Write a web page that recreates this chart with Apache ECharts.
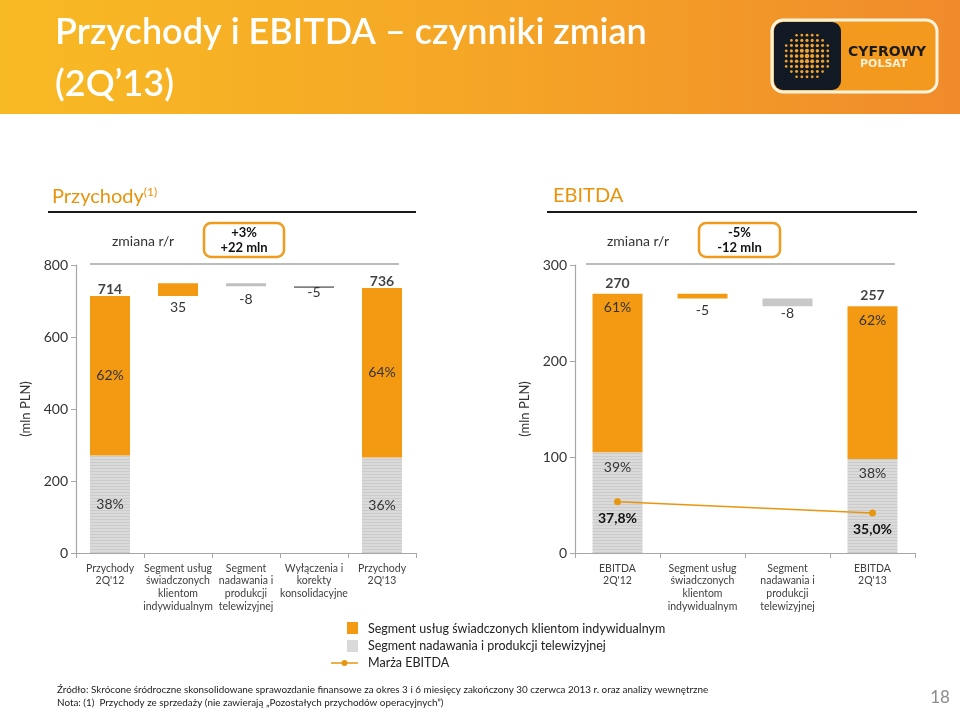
<!DOCTYPE html>
<html>
<head>
<meta charset="utf-8">
<script src="https://cdn.jsdelivr.net/npm/echarts@6/dist/echarts.min.js"></script>
<style>
html,body{margin:0;padding:0;background:#fff;}
#chart{width:960px;height:709px;}
</style>
</head>
<body>
<div id="chart"></div>
<script>
// ---------- DATA ----------
const revCategories = ["Przychody\n2Q'12", "Segment usług\nświadczonych\nklientom\nindywidualnym", "Segment\nnadawania i\nprodukcji\ntelewizyjnej", "Wyłączenia i\nkorekty\nkonsolidacyjne", "Przychody\n2Q'13"];
const revTotals = [714, 736];
const revDeltas = [35, -8, -5];
const revInd = [443, 471];
const revTV = [271, 265];
const revShareInd = ['62%', '64%'];
const revShareTV = ['38%', '36%'];
const revTicks = [0, 200, 400, 600, 800];

const ebitdaCategories = ["EBITDA\n2Q'12", "Segment usług\nświadczonych\nklientom\nindywidualnym", "Segment\nnadawania i\nprodukcji\ntelewizyjnej", "EBITDA\n2Q'13"];
const ebitdaTotals = [270, 257];
const ebitdaDeltas = [-5, -8];
const ebitdaInd = [165, 159];
const ebitdaTV = [105, 98];
const ebitdaShareInd = ['61%', '62%'];
const ebitdaShareTV = ['39%', '38%'];
const ebitdaMargin = [37.8, 35.0];
const ebitdaMarginLabels = ['37,8%', '35,0%'];
const ebitdaTicks = [0, 100, 200, 300];

// ---------- STYLE ----------
const FONT = 'Lato, "Open Sans", sans-serif';
const ORANGE = '#F39A12';
const GREY = '#D9D9D9';
const TXT = '#333333';

function stripes() {
  const c = document.createElement('canvas');
  c.width = 4; c.height = 3;
  const g = c.getContext('2d');
  g.fillStyle = '#DADADA'; g.fillRect(0, 0, 4, 3);
  g.fillStyle = '#CBCBCB'; g.fillRect(0, 0, 4, 1);
  return {image: c, repeat: 'repeat'};
}
const GREY_PAT = stripes();

// waterfall bases
function waterfall(start, deltas) {
  const base = [], mags = [];
  let run = start;
  deltas.forEach(d => {
    if (d >= 0) { base.push(run); run += d; }
    else { run += d; base.push(run); }
    mags.push(Math.abs(d));
  });
  return {base, mags};
}
const revW = waterfall(revTotals[0], revDeltas);
const ebW = waterfall(ebitdaTotals[0], ebitdaDeltas);

const lbl = {fontFamily: FONT, fontSize: 14, color: TXT};

// Revenue series
const revBase = [0, ...revW.base, 0];
const revGreyData = [
  {value: revTV[0], label: {show: true, position: 'inside', formatter: revShareTV[0]}},
  '-',
  {value: revW.mags[1], itemStyle: {color: '#BFBFBF'}, label: {show: true, position: 'bottom', distance: 6, formatter: String(revDeltas[1])}},
  '-',
  {value: revTV[1], label: {show: true, position: 'inside', formatter: revShareTV[1]}}
];
const revOrangeData = [
  {value: revInd[0], label: {show: true, position: 'inside', formatter: revShareInd[0]}},
  {value: revW.mags[0], label: {show: true, position: 'bottom', distance: 5, formatter: String(revDeltas[0])}},
  '-', '-',
  {value: revInd[1], label: {show: true, position: 'inside', formatter: revShareInd[1]}}
];
const revDarkData = ['-', '-', '-',
  {value: revW.mags[2], label: {show: true, position: 'bottom', distance: -3, formatter: String(revDeltas[2])}},
  '-'];

// EBITDA series
const ebBase = [0, ...ebW.base, 0];
const ebGreyData = [
  {value: ebitdaTV[0], label: {show: true, position: 'insideTop', distance: 8, formatter: ebitdaShareTV[0]}},
  '-',
  {value: ebW.mags[1], itemStyle: {color: '#C8C8C8'}, label: {show: true, position: 'bottom', distance: 0, formatter: String(ebitdaDeltas[1])}},
  {value: ebitdaTV[1], label: {show: true, position: 'insideTop', distance: 8, formatter: ebitdaShareTV[1]}}
];
const ebOrangeData = [
  {value: ebitdaInd[0], label: {show: true, position: 'insideTop', distance: 7, formatter: ebitdaShareInd[0]}},
  {value: ebW.mags[0], label: {show: true, position: 'bottom', distance: 5, formatter: String(ebitdaDeltas[0])}},
  '-',
  {value: ebitdaInd[1], label: {show: true, position: 'insideTop', distance: 7, formatter: ebitdaShareInd[1]}}
];
const ebMarginData = [ebitdaMargin[0], '-', '-', ebitdaMargin[1]];

function catAxis(gridIndex, data) {
  return {
    type: 'category', gridIndex, data,
    axisLine: {lineStyle: {color: '#A6A6A6', width: 1.2}},
    axisTick: {show: true, length: 5, lineStyle: {color: '#A6A6A6'}},
    axisLabel: {fontFamily: FONT, fontSize: 10.5, color: '#404040', lineHeight: 12.7, margin: 9, interval: 0}
  };
}
function valAxis(gridIndex, max, interval) {
  return {
    type: 'value', gridIndex, min: 0, max, interval,
    name: '(mln PLN)', nameLocation: 'middle', nameGap: 44, nameRotate: 90,
    nameTextStyle: {fontFamily: FONT, fontSize: 13, color: TXT},
    axisLine: {show: true, lineStyle: {color: '#A6A6A6', width: 1.2}},
    axisTick: {show: true, length: 5, lineStyle: {color: '#A6A6A6'}},
    axisLabel: {fontFamily: FONT, fontSize: 14, color: TXT, margin: 8},
    splitLine: {show: false}
  };
}

// ---------- GRAPHICS (decor) ----------
const graphic = [];
graphic.push({type: 'rect', shape: {x: 0, y: 0, width: 960, height: 114}, silent: true, z: -1,
  style: {fill: new echarts.graphic.LinearGradient(0, 0, 1, 0, [
    {offset: 0, color: '#F8BA24'}, {offset: 0.5, color: '#F5A626'}, {offset: 1, color: '#F08B2B'}])}});
graphic.push({type: 'text', left: 55, top: 14, style: {text: 'Przychody i EBITDA – czynniki zmian', font: '600 36px ' + FONT, fill: '#fff'}});
graphic.push({type: 'text', left: 55, top: 66, style: {text: '(2Q’13)', font: '600 36px ' + FONT, fill: '#fff'}});
// logo
graphic.push({type: 'rect', shape: {x: 772, y: 20, width: 165, height: 72, r: 11}, style: {fill: '#F39A1E', stroke: '#FFF3DC', lineWidth: 3}});
graphic.push({type: 'rect', shape: {x: 774, y: 22, width: 67, height: 68, r: 9}, style: {fill: '#111A24'}});
(function () {
  const cx = 807, cy = 56, R = 24;
  for (let i = -4; i <= 4; i++) {
    for (let j = -4; j <= 4; j++) {
      const x = cx + j * 5.2, y = cy + i * 5.2;
      const d = Math.hypot(x - cx, y - cy);
      if (d < R) graphic.push({type: 'circle', shape: {cx: x, cy: y, r: 2.3 * (1 - 0.45 * d / R)}, style: {fill: '#F5A22A'}});
    }
  }
})();
graphic.push({type: 'text', left: 848, top: 45, style: {text: 'CYFROWY', font: '900 14px "DejaVu Sans", sans-serif', fill: '#1A1A1A'}});
graphic.push({type: 'text', left: 860, top: 59, style: {text: 'POLSAT', font: '700 11px "DejaVu Sans", sans-serif', fill: '#FFF1D8'}});

// section headers
graphic.push({type: 'text', left: 52, top: 186, style: {
  text: '{a|Przychody}{s|(1)}', rich: {a: {font: '20px ' + FONT, fill: '#E8930C'}, s: {font: '12px ' + FONT, fill: '#E8930C', verticalAlign: 'top', padding: [0, 0, 10, 0]}}}});
graphic.push({type: 'line', shape: {x1: 48, y1: 212, x2: 416, y2: 212}, style: {stroke: '#1A1A1A', lineWidth: 2}});
graphic.push({type: 'text', left: 553, top: 186, style: {text: 'EBITDA', font: '20px ' + FONT, fill: '#E8930C'}});
graphic.push({type: 'line', shape: {x1: 547, y1: 212, x2: 917, y2: 212}, style: {stroke: '#1A1A1A', lineWidth: 2}});

// change boxes
function changeBox(cxLabel, bx, bw, l1, l2, lx1, lx2) {
  graphic.push({type: 'text', x: cxLabel, y: 241, style: {text: 'zmiana r/r', font: '14px ' + FONT, fill: TXT, align: 'center', verticalAlign: 'middle'}});
  graphic.push({type: 'rect', shape: {x: bx, y: 223, width: bw, height: 34, r: 7}, style: {fill: '#fff', stroke: '#F09A1E', lineWidth: 2.5}});
  graphic.push({type: 'text', x: bx + bw / 2, y: 233, style: {text: l1, font: 'bold 13px ' + FONT, fill: '#111', align: 'center', verticalAlign: 'middle'}});
  graphic.push({type: 'text', x: bx + bw / 2, y: 248, style: {text: l2, font: 'bold 13px ' + FONT, fill: '#111', align: 'center', verticalAlign: 'middle'}});
  graphic.push({type: 'line', shape: {x1: lx1, y1: 264, x2: lx2, y2: 264}, style: {stroke: '#A6A6A6', lineWidth: 1.5}});
}
changeBox(143, 204, 80, '+3%', '+22 mln', 90, 399);
changeBox(638, 699, 81, '-5%', '-12 mln', 586, 895);

// legend
graphic.push({type: 'rect', shape: {x: 347, y: 622, width: 11, height: 12}, style: {fill: ORANGE}});
graphic.push({type: 'text', x: 368, y: 629, style: {text: 'Segment usług świadczonych klientom indywidualnym', font: '12.5px ' + FONT, fill: '#222', verticalAlign: 'middle'}});
graphic.push({type: 'rect', shape: {x: 347, y: 640, width: 11, height: 12}, style: {fill: GREY}});
graphic.push({type: 'text', x: 368, y: 646, style: {text: 'Segment nadawania i produkcji telewizyjnej', font: '12.5px ' + FONT, fill: '#222', verticalAlign: 'middle'}});
graphic.push({type: 'line', shape: {x1: 331, y1: 663, x2: 358, y2: 663}, style: {stroke: '#E8960F', lineWidth: 1.5}});
graphic.push({type: 'circle', shape: {cx: 344.5, cy: 663, r: 3}, style: {fill: '#E8960F'}});
graphic.push({type: 'text', x: 368, y: 663, style: {text: 'Marża EBITDA', font: '12.5px ' + FONT, fill: '#222', verticalAlign: 'middle'}});

// footer
graphic.push({type: 'text', x: 57, y: 690, style: {text: 'Źródło: Skrócone śródroczne skonsolidowane sprawozdanie finansowe za okres 3 i 6 miesięcy zakończony 30 czerwca 2013 r. oraz analizy wewnętrzne', font: '9.9px ' + FONT, fill: '#222', verticalAlign: 'middle'}});
graphic.push({type: 'text', x: 57, y: 703, style: {text: 'Nota: (1)  Przychody ze sprzedaży (nie zawierają „Pozostałych przychodów operacyjnych”)', font: '9.9px ' + FONT, fill: '#222', verticalAlign: 'middle'}});
graphic.push({type: 'text', x: 940, y: 698, style: {text: '18', font: '17px ' + FONT, fill: '#8C8C8C', align: 'center', verticalAlign: 'middle'}});

// ---------- OPTION ----------
const totalLabel = (dist) => ({show: true, position: 'top', distance: dist, formatter: p => p.value[1],
  fontFamily: FONT, fontSize: 14, fontWeight: 'bold', color: '#111'});
const option = {
  animation: false,
  backgroundColor: '#fff',
  textStyle: {fontFamily: FONT},
  graphic,
  grid: [
    {left: 76, right: 544, top: 265, bottom: 156},
    {left: 575, right: 45, top: 265, bottom: 156}
  ],
  xAxis: [catAxis(0, revCategories), catAxis(1, ebitdaCategories)],
  yAxis: [
    valAxis(0, revTicks[revTicks.length - 1], revTicks[1] - revTicks[0]),
    valAxis(1, ebitdaTicks[ebitdaTicks.length - 1], ebitdaTicks[1] - ebitdaTicks[0]),
    {type: 'value', gridIndex: 1, min: 25, max: 97, show: false}
  ],
  series: [
    // revenue
    {type: 'bar', xAxisIndex: 0, yAxisIndex: 0, stack: 'r', barWidth: 40, data: revBase, itemStyle: {color: 'transparent'}, silent: true},
    {type: 'bar', xAxisIndex: 0, yAxisIndex: 0, stack: 'r', barWidth: 40, data: revGreyData, itemStyle: {color: GREY_PAT}, label: lbl},
    {type: 'bar', xAxisIndex: 0, yAxisIndex: 0, stack: 'r', barWidth: 40, data: revOrangeData, itemStyle: {color: ORANGE}, label: lbl},
    {type: 'bar', xAxisIndex: 0, yAxisIndex: 0, stack: 'r', barWidth: 40, data: revDarkData, itemStyle: {color: '#808080'}, label: lbl},
    {type: 'scatter', xAxisIndex: 0, yAxisIndex: 0, symbolSize: 1, itemStyle: {color: 'rgba(0,0,0,0)'}, z: 10,
      data: [[0, revTotals[0]], [4, revTotals[1]]], label: totalLabel(-1)},
    // ebitda
    {type: 'bar', xAxisIndex: 1, yAxisIndex: 1, stack: 'e', barWidth: 50, data: ebBase, itemStyle: {color: 'transparent'}, silent: true},
    {type: 'bar', xAxisIndex: 1, yAxisIndex: 1, stack: 'e', barWidth: 50, data: ebGreyData, itemStyle: {color: GREY_PAT}, label: lbl},
    {type: 'bar', xAxisIndex: 1, yAxisIndex: 1, stack: 'e', barWidth: 50, data: ebOrangeData, itemStyle: {color: ORANGE}, label: lbl},
    {type: 'scatter', xAxisIndex: 1, yAxisIndex: 1, symbolSize: 1, itemStyle: {color: 'rgba(0,0,0,0)'}, z: 10,
      data: [[0, ebitdaTotals[0]], [3, ebitdaTotals[1]]], label: totalLabel(3)},
    {type: 'line', xAxisIndex: 1, yAxisIndex: 2, data: ebMarginData, connectNulls: true,
      symbol: 'circle', symbolSize: 7, lineStyle: {color: '#E8960F', width: 1.5}, itemStyle: {color: '#E8960F'},
      label: {show: true, position: 'bottom', distance: 6, formatter: p => ebitdaMarginLabels[p.dataIndex === 0 ? 0 : 1],
        fontFamily: FONT, fontSize: 14, fontWeight: 'bold', color: '#111'}}
  ]
};
const chart = echarts.init(document.getElementById('chart'), null, {renderer: 'canvas'});
chart.setOption(option);
</script>
</body>
</html>
